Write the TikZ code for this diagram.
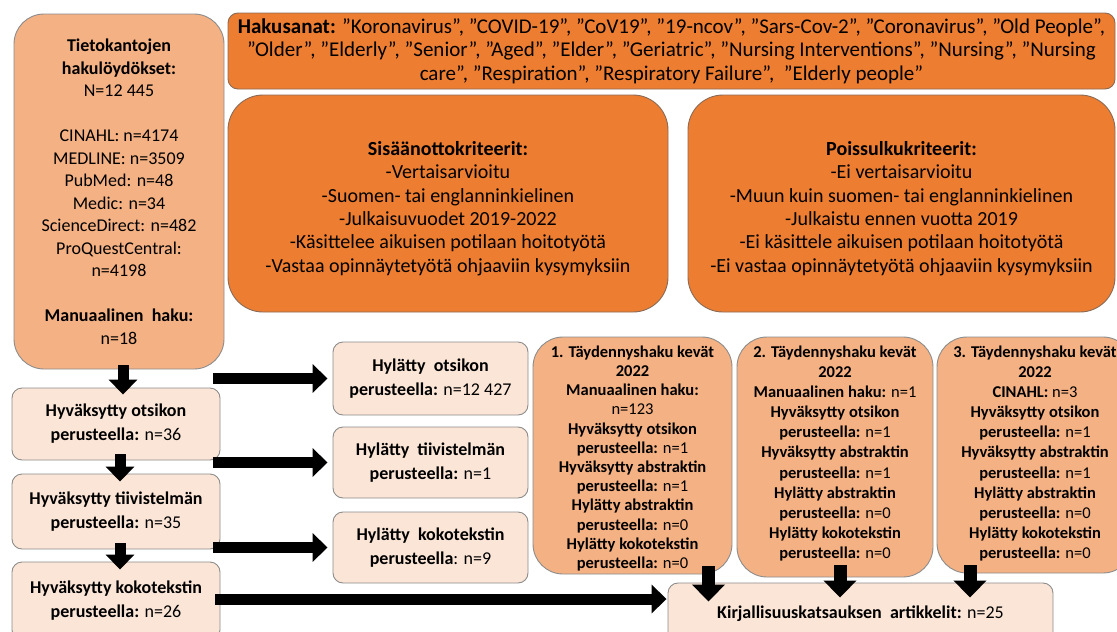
\documentclass[tikz,border=0pt]{standalone}
\usepackage{fontspec}
\setmainfont{Carlito}
\usetikzlibrary{arrows.meta,calc}
\definecolor{dorange}{HTML}{ED7D31}
\definecolor{morange}{HTML}{F4B183}
\definecolor{lorange}{HTML}{FBE5D6}
\definecolor{bordr}{HTML}{8C8C8C}
\definecolor{obordr}{HTML}{8A6A55}
\tikzset{
  box/.style={draw=bordr, line width=0.9pt, align=center, inner sep=0pt},
  lbox/.style={box, fill=lorange, rounded corners=10pt, font=\fontsize{18}{24}\selectfont},
  sbox/.style={box, fill=morange, rounded corners=30pt},
  stext/.style={align=center, inner sep=0pt, font=\fontsize{16.5}{20.1}\selectfont},
  cbox/.style={box, draw=obordr, fill=dorange, rounded corners=35pt},
  ctext/.style={align=center, inner sep=0pt, font=\fontsize{20}{23.3}\selectfont},
  bigarrow/.style={line width=11pt, -{Triangle[width=28pt,length=15pt]}},
  botarrow/.style={line width=13pt, -{Triangle[width=32pt,length=17pt]}},
}
\begin{document}
\begin{tikzpicture}[x=1pt,y=-1pt]
\useasboundingbox (0,0) rectangle (1117,632);
% top banner
\node[box, draw=obordr, fill=dorange, rounded corners=10pt, minimum width=887pt, minimum height=76pt,
  font=\fontsize{21}{23.3}\selectfont] (kw) at (671.5,51)
 {\textbf{Hakusanat:} ”Koronavirus”, ”COVID-19”, ”CoV19”, ”19-ncov”, ”Sars-Cov-2”, ”Coronavirus”, ”Old People”,\\
  ”Older”, ”Elderly”, ”Senior”, ”Aged”, ”Elder”, ”Geriatric”, ”Nursing Interventions”, ”Nursing”, ”Nursing\\
  care”, ”Respiration”, ”Respiratory Failure”,\ \ ”Elderly people”};
% criteria
\node[cbox, minimum width=440pt, minimum height=217pt] (inc) at (448,203.5) {};
\node[ctext] (inct) at ([yshift=-5pt]inc.center)
 {\textbf{Sisäänottokriteerit:}\\ -Vertaisarvioitu\\ -Suomen- tai englanninkielinen\\ -Julkaisuvuodet 2019-2022\\ -Käsittelee aikuisen potilaan hoitotyötä\\ -Vastaa opinnäytetyötä ohjaaviin kysymyksiin};
\node[cbox, minimum width=427pt, minimum height=217pt] (exc) at (901.5,203.5) {};
\node[ctext] (exct) at ([yshift=-5pt]exc.center)
 {\textbf{Poissulkukriteerit:}\\ -Ei vertaisarvioitu\\ -Muun kuin suomen- tai englanninkielinen\\ -Julkaistu ennen vuotta 2019\\ -Ei käsittele aikuisen potilaan hoitotyötä\\ -Ei vastaa opinnäytetyötä ohjaaviin kysymyksiin};
% source box
\node[box, fill=morange, rounded corners=30pt, minimum width=210pt, minimum height=355pt,
  font=\fontsize{18}{22.5}\selectfont] (src) at (119,191.5)
 {\textbf{Tietokantojen}\\ \textbf{hakulöydökset:}\\ N=12 445\\[22.5pt] CINAHL: n=4174\\ MEDLINE: n=3509\\ PubMed: n=48\\ Medic: n=34\\ ScienceDirect: n=482\\ ProQuestCentral:\\ n=4198\\[22.5pt] \textbf{Manuaalinen\ \ haku:}\\ n=18};
% accepted chain
\node[lbox, minimum width=208pt, minimum height=72pt] (acc1) at (116,424)
 {\textbf{Hyväksytty otsikon}\\ \textbf{perusteella:} n=36};
\node[lbox, minimum width=208pt, minimum height=75pt] (acc2) at (116,511.5)
 {\textbf{Hyväksytty tiivistelmän}\\ \textbf{perusteella:} n=35};
\node[lbox, minimum width=208pt, minimum height=78pt] (acc3) at (116,601)
 {\textbf{Hyväksytty kokotekstin}\\ \textbf{perusteella:} n=26};
% rejected
\node[lbox, minimum width=195pt, minimum height=73pt] (rej1) at (430.5,378.5)
 {\textbf{Hylätty\ \ otsikon}\\ \textbf{perusteella:} n=12 427};
\node[lbox, minimum width=195pt, minimum height=71pt] (rej2) at (430.5,462.5)
 {\textbf{Hylätty\ \ tiivistelmän}\\ \textbf{perusteella:} n=1};
\node[lbox, minimum width=195pt, minimum height=71pt] (rej3) at (430.5,547.5)
 {\textbf{Hylätty\ \ kokotekstin}\\ \textbf{perusteella}: n=9};
% supplementary searches
\node[sbox, minimum width=199pt, minimum height=237pt] (sup1) at (632.5,455.5) {};
\node[stext, font=\fontsize{16.5}{19.2}\selectfont] (sup1t) at (632.5,458.5)
 {\textbf{1. Täydennyshaku kevät}\\ \textbf{2022}\\ \textbf{Manuaalinen haku:}\\ n=123\\ \textbf{Hyväksytty otsikon}\\ \textbf{perusteella:} n=1\\ \textbf{Hyväksytty abstraktin}\\ \textbf{perusteella:} n=1\\ \textbf{Hylätty abstraktin}\\ \textbf{perusteella:} n=0\\ \textbf{Hylätty kokotekstin}\\ \textbf{perusteella:} n=0};
\node[sbox, minimum width=196pt, minimum height=240pt] (sup2) at (835,457) {};
\node[stext] (sup2t) at (835,453.5)
 {\textbf{2. Täydennyshaku kevät}\\ \textbf{2022}\\ \textbf{Manuaalinen haku:} n=1\\ \textbf{Hyväksytty otsikon}\\ \textbf{perusteella:} n=1\\ \textbf{Hyväksytty abstraktin}\\ \textbf{perusteella:} n=1\\ \textbf{Hylätty abstraktin}\\ \textbf{perusteella:} n=0\\ \textbf{Hylätty kokotekstin}\\ \textbf{perusteella:} n=0};
\node[sbox, minimum width=196pt, minimum height=236pt] (sup3) at (1035,455) {};
\node[stext] (sup3t) at (1035,453.5)
 {\textbf{3. Täydennyshaku kevät}\\ \textbf{2022}\\ \textbf{CINAHL:} n=3\\ \textbf{Hyväksytty otsikon}\\ \textbf{perusteella:} n=1\\ \textbf{Hyväksytty abstraktin}\\ \textbf{perusteella:} n=1\\ \textbf{Hylätty abstraktin}\\ \textbf{perusteella:} n=0\\ \textbf{Hylätty kokotekstin}\\ \textbf{perusteella:} n=0};
% final
\node[lbox, minimum width=385pt, minimum height=62pt, font=\fontsize{18}{20}\selectfont] (fin) at (860.5,614)
 {\raisebox{4pt}{\textbf{Kirjallisuuskatsauksen\ \ artikkelit:} n=25}};
% vertical arrows
\draw[bigarrow, shorten <=-4pt, shorten >=-7pt] ([xshift=4pt]src.south) -- ([xshift=4pt]src.south |- acc1.north);
\draw[bigarrow, shorten <=-6pt, shorten >=-8pt] ([xshift=4pt]acc1.south) -- ([xshift=4pt]acc1.south |- acc2.north);
\draw[bigarrow, shorten <=-6pt, shorten >=-8pt] ([xshift=4pt]acc2.south) -- ([xshift=4pt]acc2.south |- acc3.north);
% horizontal arrows
\draw[bigarrow, shorten >=5pt] ([xshift=-7pt]acc1.east |- rej1.west) -- (rej1.west);
\draw[bigarrow, shorten >=5pt] ([xshift=-7pt]acc1.east |- rej2.west) -- (rej2.west);
\draw[bigarrow, shorten >=5pt] ([xshift=-7pt]acc1.east |- rej3.west) -- (rej3.west);
\draw[bigarrow, shorten <=-5pt, shorten >=1pt] ([yshift=2pt]acc3.east) -- ([yshift=2pt]fin.west |- acc3.east);
% supplementary to final
\draw[botarrow, shorten <=-8pt, shorten >=-19pt] ([xshift=76pt]sup1.south) -- ([xshift=76pt]sup1.south |- fin.north);
\draw[botarrow, shorten <=-12pt, shorten >=-15pt] ([xshift=5pt]sup2.south) -- ([xshift=5pt]sup2.south |- fin.north);
\draw[botarrow, shorten <=-8pt, shorten >=-15pt] ([xshift=-65pt]sup3.south) -- ([xshift=-65pt]sup3.south |- fin.north);
\end{tikzpicture}
\end{document}
